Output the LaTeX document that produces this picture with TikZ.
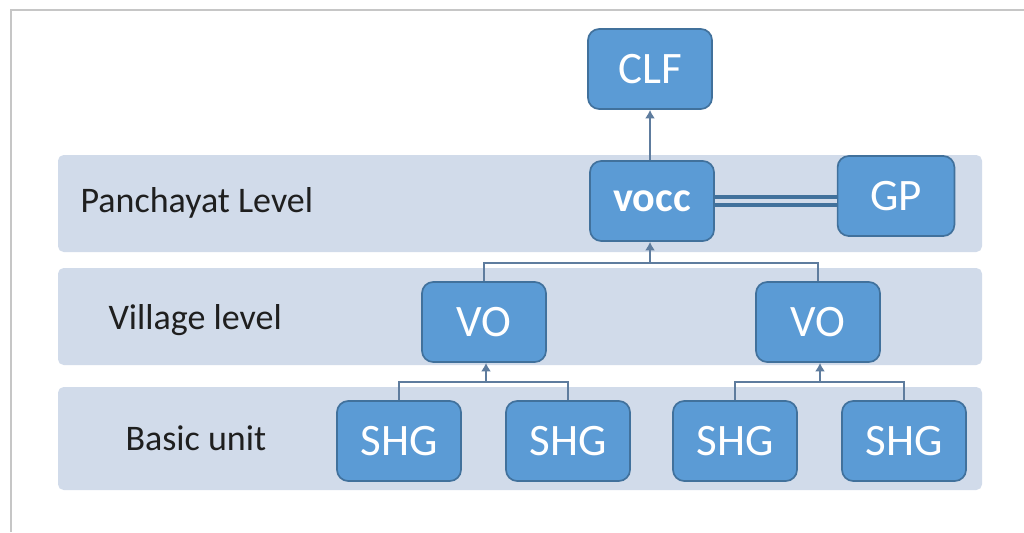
\documentclass[tikz,border=0pt]{standalone}
\usepackage{fontspec}
\setmainfont{Carlito}
\usetikzlibrary{arrows.meta}
\definecolor{boxblue}{HTML}{5B9BD5}
\definecolor{boxedge}{HTML}{41719C}
\definecolor{bandgray}{HTML}{D1DBEA}
\definecolor{linkgray}{HTML}{5E7C9E}
\tikzset{
  unit/.style={draw=boxedge, fill=boxblue, rounded corners=4pt, line width=0.6pt,
    minimum width=1.55cm, minimum height=1cm, text=white,
    font=\fontsize{16}{18}\selectfont},
  tier/.style={anchor=west, inner sep=0pt, text=black!88, font=\fontsize{12.8}{15}\selectfont},
  joint/.style={draw=linkgray, line width=0.6pt},
  link/.style={joint, -{Latex[length=3pt,width=3.5pt]}},
}
\begin{document}
\begin{tikzpicture}[x=0.0125cm,y=-0.0125cm]
\useasboundingbox (0,0) rectangle (1024,532);
\fill[white] (0,0) rectangle (1024,532);
\draw[gray!45, line width=0.5pt] (11,532) -- (11,10) -- (1024,10);
%bands
\fill[bandgray, rounded corners=2pt] (58,155) rectangle (982,252);
\fill[bandgray, rounded corners=2pt] (58,268) rectangle (982,365);
\fill[bandgray, rounded corners=2pt] (58,387) rectangle (982,490);
\node[tier] (panch) at (80,203) {Panchayat Level};
\node[tier] (vill) at (108,320) {Village level};
\node[tier] (basic) at (125,438) {Basic unit};
%units
\node[unit] (clf) at (650,69) {CLF};
\node[unit, font=\fontsize{15}{17}\selectfont\bfseries] (vocc) at (652,201) {vocc};
\node[unit, minimum width=1.46cm] (gp) at (896,196) {GP};
\node[unit] (vo1) at (484,322) {VO};
\node[unit] (vo2) at (818,322) {VO};
\node[unit] (shg1) at (399,441) {SHG};
\node[unit] (shg2) at (568,441) {SHG};
\node[unit] (shg3) at (735,441) {SHG};
\node[unit] (shg4) at (904,441) {SHG};
%links
\coordinate (top) at (650,263);
\coordinate (left) at (486,382);
\coordinate (right) at (820,382);
\draw[link] (vocc.north -| clf.south) -- (clf.south);
\draw[joint] (vo1.north) |- (top) -| (vo2.north);
\draw[link] (top) -- (top |- vocc.south);
\draw[joint] (shg1.north) |- (left) -| (shg2.north);
\draw[link] (left) -- (left |- vo1.south);
\draw[joint] (shg3.north) |- (right) -| (shg4.north);
\draw[link] (right) -- (right |- vo2.south);
\draw[draw=boxedge, line width=1.4pt, double=bandgray, double distance=1.6pt] (vocc.east) -- (vocc.east -| gp.west);
\end{tikzpicture}
\end{document}
